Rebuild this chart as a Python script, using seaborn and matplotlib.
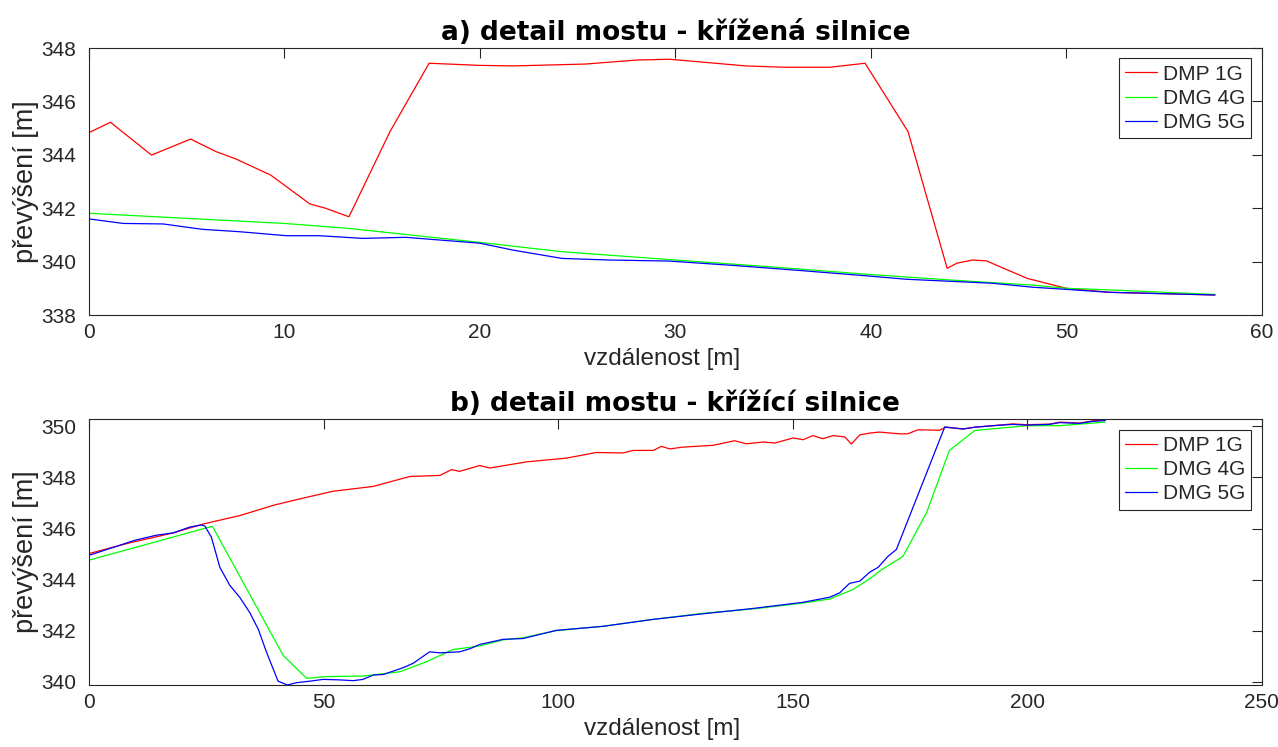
import numpy as np
import pandas as pd
import matplotlib
matplotlib.use("Agg")
import matplotlib.pyplot as plt
import seaborn as sns

# ---------------- data: panel a ----------------
a_dmp1_x = [0, 1.1, 3.2, 5.2, 6.5, 7.5, 9.3, 11.3, 12.1, 13.3, 15.4, 17.4, 20.0, 21.7,
            25.4, 28.0, 29.7, 33.6, 35.6, 37.9, 39.7, 41.9, 43.9, 44.4, 45.2, 45.9,
            48.0, 50.0, 52.2, 57.6]
a_dmp1_y = [344.83, 345.22, 343.99, 344.59, 344.12, 343.85, 343.24, 342.16, 342.0, 341.68,
            344.87, 347.43, 347.35, 347.33, 347.4, 347.55, 347.58, 347.33, 347.28, 347.28,
            347.43, 344.87, 339.75, 339.94, 340.06, 340.03, 339.37, 339.0, 338.85, 338.75]

a_dmg4_x = [0, 10.0, 13.2, 20.0, 24.2, 30.0, 34.8, 39.9, 44.5, 48.3, 50.0, 52.2, 57.6]
a_dmg4_y = [341.81, 341.43, 341.25, 340.72, 340.37, 340.06, 339.81, 339.52, 339.29, 339.12,
            339.0, 338.94, 338.77]

a_dmg5_x = [0, 1.75, 3.8, 5.8, 7.7, 10.1, 11.8, 14.0, 16.2, 20.0, 21.7, 24.2, 26.6, 29.7,
            33.1, 36.5, 39.9, 41.8, 46.2, 48.3, 50.0, 52.2, 57.6]
a_dmg5_y = [341.6, 341.43, 341.41, 341.21, 341.12, 340.97, 340.97, 340.87, 340.91, 340.69,
            340.43, 340.12, 340.06, 340.02, 339.85, 339.66, 339.46, 339.34, 339.19, 339.04,
            338.96, 338.85, 338.75]

# ---------------- data: panel b ----------------
b_dmp1_x = [0, 8.7, 18.0, 24.4, 32.2, 39.3, 44.2, 52.0, 60.6, 68.4, 74.8, 77.3, 79.0, 83.3,
            85.4, 93.2, 101.8, 108.2, 113.8, 116.0, 120.3, 122.0, 123.8, 126.6, 133.0,
            137.6, 140.1, 143.7, 146.2, 150.1, 152.2, 154.3, 156.4, 158.6, 161.1, 162.5,
            164.3, 166.4, 168.5, 172.8, 174.5, 176.7, 181.3, 182.6, 186.3, 188.8, 192.7,
            196.9, 199.8, 204.7, 206.9, 211.1, 214.0, 216.6]
b_dmp1_y = [345.02, 345.44, 345.83, 346.18, 346.51, 346.91, 347.13, 347.46, 347.65, 348.04,
            348.08, 348.31, 348.24, 348.47, 348.37, 348.61, 348.76, 348.98, 348.96, 349.06,
            349.06, 349.22, 349.12, 349.19, 349.26, 349.44, 349.32, 349.39, 349.35, 349.55,
            349.48, 349.64, 349.52, 349.64, 349.59, 349.31, 349.67, 349.74, 349.78, 349.71,
            349.71, 349.87, 349.85, 349.97, 349.9, 349.97, 350.03, 350.1, 350.07, 350.09,
            350.17, 350.13, 350.22, 350.26]

b_dmg4_x = [0, 26.3, 41.4, 46.4, 50.6, 58.4, 66.3, 71.9, 77.6, 83.3, 88.3, 92.5, 99.6,
            109.6, 120.2, 130.9, 141.6, 152.2, 157.9, 162.8, 166.4, 168.5, 173.5, 178.5,
            183.4, 188.8, 199.8, 206.9, 216.6]
b_dmg4_y = [344.76, 346.09, 341.03, 340.13, 340.2, 340.22, 340.39, 340.78, 341.26, 341.4,
            341.64, 341.72, 342.0, 342.17, 342.44, 342.68, 342.85, 343.08, 343.24, 343.61,
            344.03, 344.33, 344.91, 346.61, 349.06, 349.84, 350.03, 350.03, 350.17]

b_dmg5_x = [0, 9.8, 14.4, 18.0, 21.5, 24.0, 24.7, 26.1, 27.9, 30.0, 32.2, 34.3, 36.1, 37.9,
            40.3, 42.3, 44.2, 47.1, 49.9, 53.5, 56.3, 58.4, 60.6, 62.7, 67.0, 69.1, 72.6,
            74.8, 79.0, 81.2, 83.3, 88.3, 92.5, 99.6, 109.6, 120.2, 130.9, 141.6, 152.2,
            157.9, 160.0, 162.1, 164.3, 166.4, 168.2, 170.3, 172.1, 182.4, 186.3, 188.8,
            192.7, 196.9, 199.8, 204.7, 206.9, 211.1, 214.0, 216.6]
b_dmg5_y = [344.95, 345.54, 345.74, 345.83, 346.06, 346.14, 346.1, 345.66, 344.48, 343.78,
            343.29, 342.7, 342.05, 341.13, 340.02, 339.87, 339.96, 340.02, 340.09, 340.07,
            340.04, 340.09, 340.26, 340.28, 340.55, 340.72, 341.17, 341.13, 341.17, 341.29,
            341.46, 341.66, 341.69, 342.01, 342.17, 342.44, 342.66, 342.87, 343.11, 343.31,
            343.48, 343.85, 343.94, 344.29, 344.48, 344.91, 345.18, 349.98, 349.9, 349.97,
            350.03, 350.08, 350.05, 350.08, 350.15, 350.12, 350.2, 350.23]

series_names = ["DMP 1G", "DMG 4G", "DMG 5G"]
palette = {"DMP 1G": "#ff0000", "DMG 4G": "#00ff00", "DMG 5G": "#0000ff"}
titles = ["a) detail mostu - křížená silnice", "b) detail mostu - křížící silnice"]
xlabel = "vzdálenost [m]"
ylabel = "převýšení [m]"


def make_df(xs, ys):
    frames = []
    for name, x, y in zip(series_names, xs, ys):
        frames.append(pd.DataFrame({"x": x, "y": y, "series": name}))
    return pd.concat(frames, ignore_index=True)


df_a = make_df([a_dmp1_x, a_dmg4_x, a_dmg5_x], [a_dmp1_y, a_dmg4_y, a_dmg5_y])
df_b = make_df([b_dmp1_x, b_dmg4_x, b_dmg5_x], [b_dmp1_y, b_dmg4_y, b_dmg5_y])

sns.set_theme(style="white")
plt.rcParams["font.family"] = ["Liberation Sans", "DejaVu Sans"]

fig = plt.figure(figsize=(12.78, 7.47), dpi=100)
ax1 = fig.add_axes([0.0696, 0.5783, 0.9178, 0.3574])
ax2 = fig.add_axes([0.0696, 0.0830, 0.9178, 0.3557])

axcol = "#262626"
for ax, df, title, xlim, ylim, xt, yt in [
    (ax1, df_a, titles[0], (0, 60), (338, 348), np.arange(0, 61, 10), np.arange(338, 349, 2)),
    (ax2, df_b, titles[1], (0, 250), (339.87, 350.28), np.arange(0, 251, 50), np.arange(340, 351, 2)),
]:
    sns.lineplot(data=df, x="x", y="y", hue="series", hue_order=series_names,
                 palette=palette, estimator=None, sort=False, linewidth=0.9, ax=ax)
    ax.set_xlim(*xlim)
    ax.set_ylim(*ylim)
    ax.set_xticks(xt)
    ax.set_yticks(yt)
    ax.tick_params(direction="in", length=7, width=0.8, colors=axcol,
                   top=True, right=True, labelsize=15)
    ax.tick_params(axis="y", pad=9)
    ax.tick_params(axis="x", pad=6)
    for s in ax.spines.values():
        s.set_color(axcol)
        s.set_linewidth(0.8)
        s.set_visible(True)
    ax.set_xlabel(xlabel, fontsize=17.5, color=axcol)
    ax.xaxis.set_label_coords(0.489, -0.125)
    ax.set_ylabel(ylabel, fontsize=19.5, color=axcol, labelpad=2)
    ax.set_title(title, fontsize=19, fontweight="bold", family="DejaVu Sans",
                 color="black", pad=6)
    leg = ax.legend(loc="upper right", fontsize=15, frameon=True, fancybox=False,
                    framealpha=1, edgecolor=axcol, handlelength=1.5, handletextpad=0.3,
                    borderpad=0.3, labelspacing=0.25, borderaxespad=0.5)
    leg.get_frame().set_linewidth(0.8)

fig.savefig("out.png", dpi=100)
